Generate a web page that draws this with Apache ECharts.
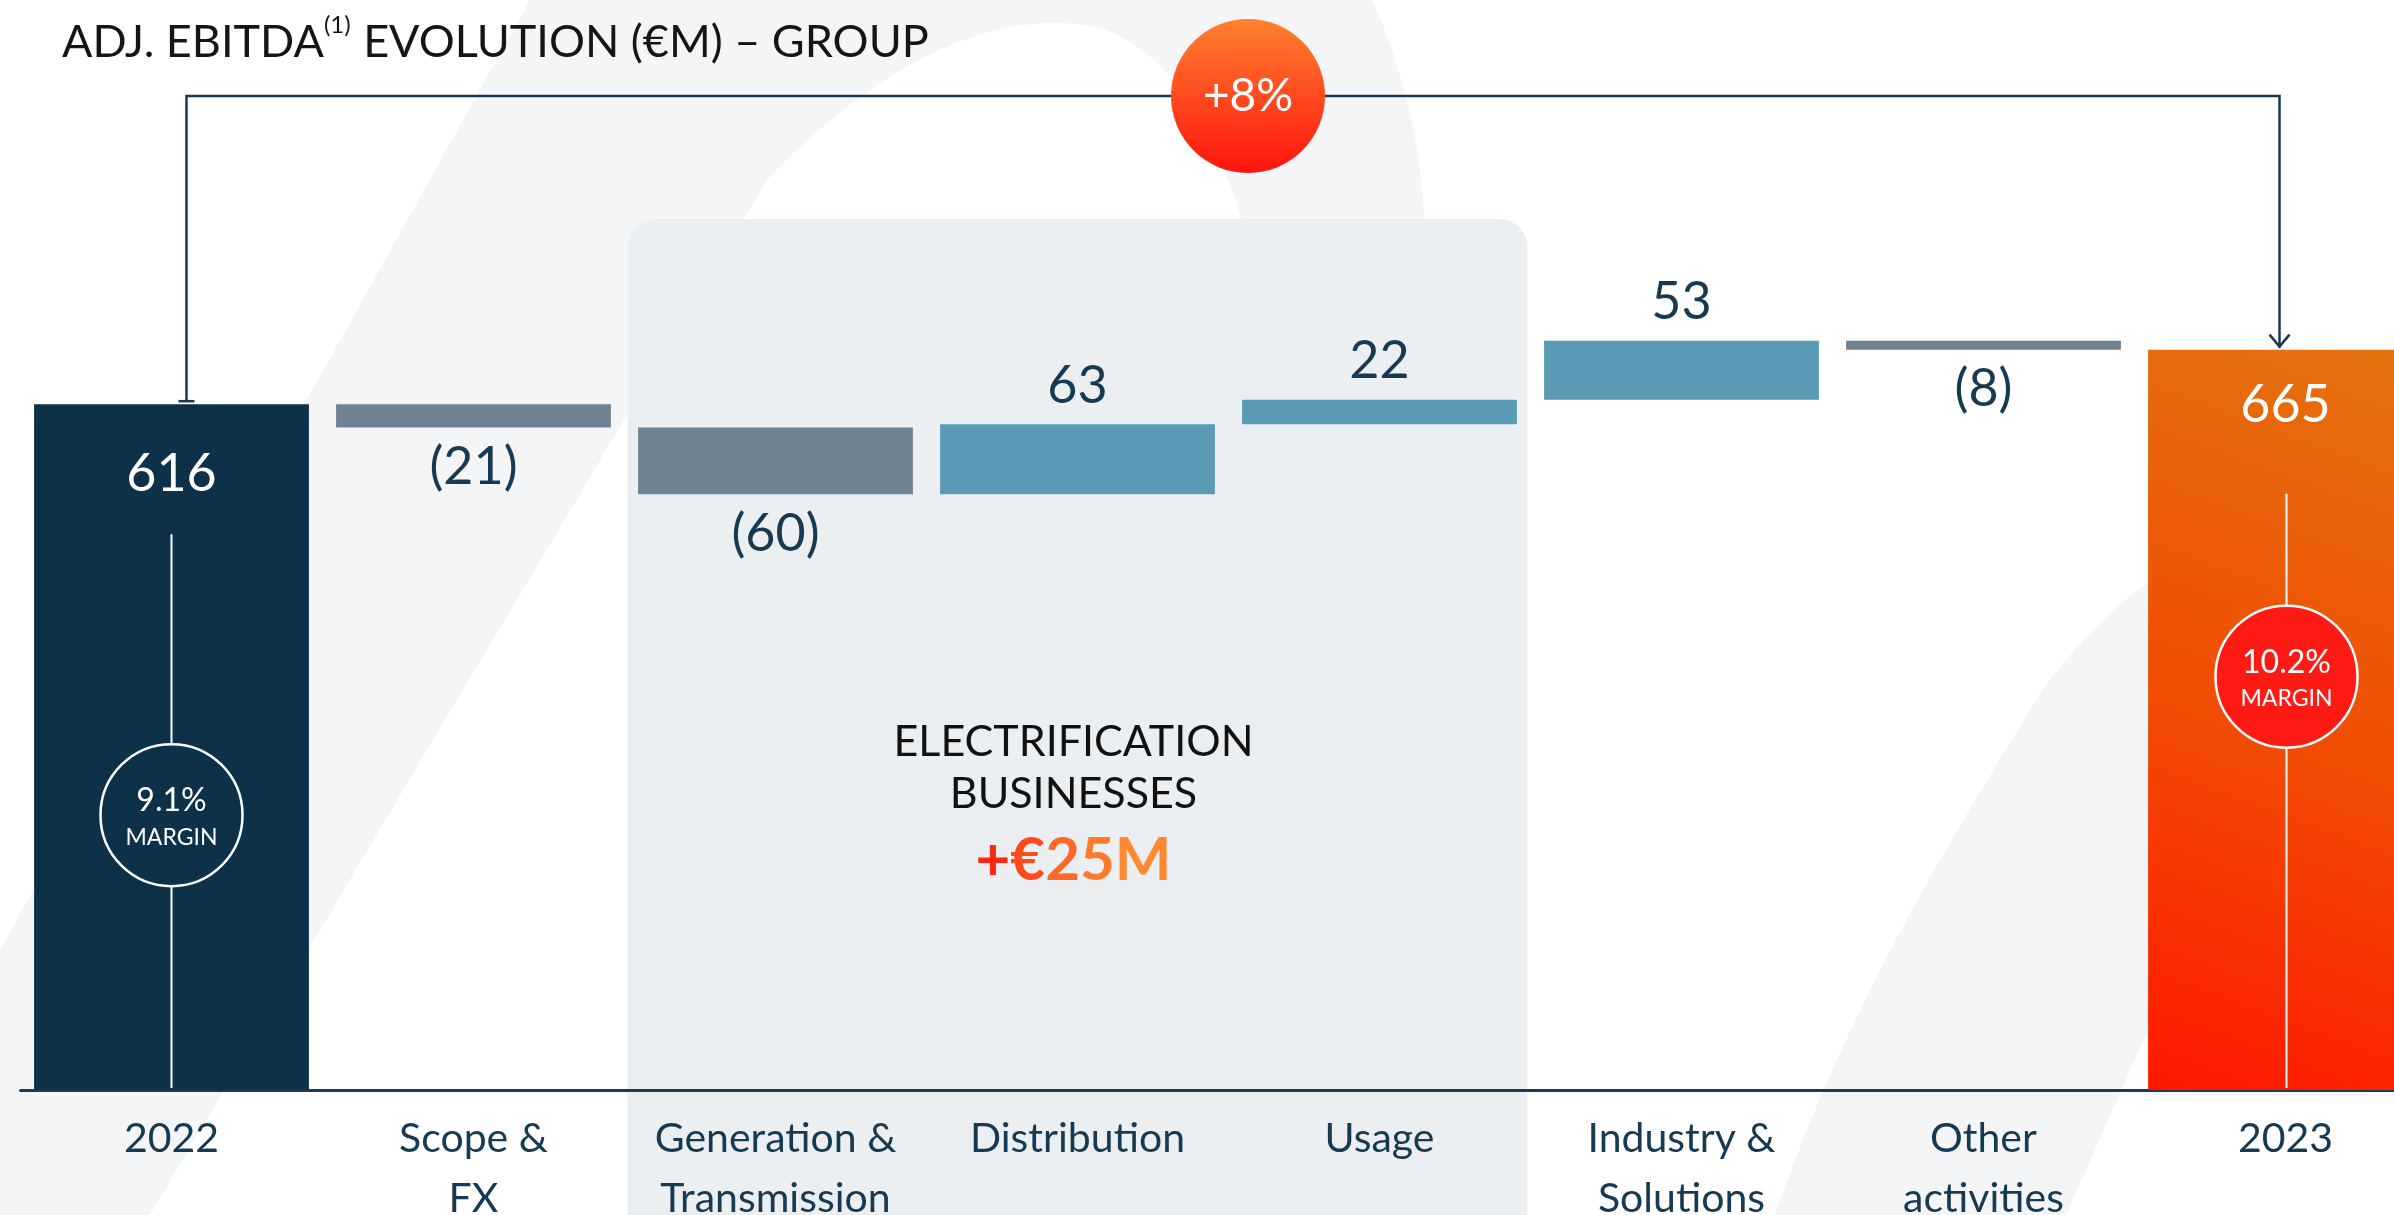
<!DOCTYPE html>
<html><head><meta charset="utf-8">
<script src="https://cdn.jsdelivr.net/npm/echarts@6/dist/echarts.min.js"></script>
<style>html,body{margin:0;padding:0;background:#fff}#c{width:2394px;height:1215px}</style>
</head><body><div id="c"></div>
<script>
// ---- data ----
const categories = ['2022', 'Scope &\nFX', 'Generation &\nTransmission', 'Distribution', 'Usage', 'Industry &\nSolutions', 'Other\nactivities', '2023'];
const startValue = 616;
const deltas = [-21, -60, 63, 22, 53, -8];
const endValue = 665;
const valueLabels = ['616', '(21)', '(60)', '63', '22', '53', '(8)', '665'];
const marginLabels = ['9.1%', '10.2%'];
const growthLabel = '+8%';
const segmentTitle = ['ELECTRIFICATION', 'BUSINESSES'];
const segmentValueParts = ['+', '€', '2', '5', 'M'];
const titleMain = 'ADJ. EBITDA';
const titleSup = '(1)';
const titleRest = ' EVOLUTION (€M) – GROUP';

// ---- derived waterfall arrays ----
const baseVals = [0];
const barVals = [startValue];
let running = startValue;
deltas.forEach(d => {
  const after = running + d;
  baseVals.push(Math.min(running, after));
  barVals.push(Math.abs(d));
  running = after;
});
baseVals.push(0);
barVals.push(endValue);

const FONT = 'Lato';
const NAVY = '#0d3149';
const TXT = '#163a52';
const NEG = '#6e8291';
const POS = '#5b9ab4';
const orangeGrad = new echarts.graphic.LinearGradient(0, 1, 1, 0, [
  {offset: 0, color: '#ff1800'}, {offset: 0.45, color: '#f24a04'}, {offset: 1, color: '#e3730f'}
]);

const items = barVals.map((v, i) => {
  const last = i === barVals.length - 1;
  let color, label;
  if (i === 0 || last) {
    color = i === 0 ? NAVY : orangeGrad;
    label = {show: true, position: 'insideTop', distance: i === 0 ? 44 : 30, color: '#fff'};
  } else if (deltas[i - 1] < 0) {
    color = NEG;
    label = {show: true, position: 'bottom', distance: 14, color: TXT};
  } else {
    color = POS;
    label = {show: true, position: 'top', distance: 12, color: TXT};
  }
  label.formatter = valueLabels[i];
  label.fontFamily = FONT;
  label.fontSize = 52;
  label.lineHeight = 52;
  return {value: v, itemStyle: {color: color}, label: label};
});

const chart = echarts.init(document.getElementById('c'));
chart.setOption({
  animation: false,
  backgroundColor: '#ffffff',
  title: {
    text: '{a|' + titleMain + '}{s|' + titleSup + '}{a|' + titleRest + '}',
    left: 57, top: 8,
    textStyle: {
      fontWeight: 'normal',
      rich: {
        a: {fontFamily: FONT, fontSize: 45, fontWeight: 'normal', lineHeight: 52, color: '#151515', verticalAlign: 'bottom'},
        s: {fontFamily: FONT, fontSize: 24, fontWeight: 'normal', lineHeight: 26, color: '#151515', verticalAlign: 'top', padding: [0, 1, 0, 0]}
      }
    }
  },
  grid: {left: 20.5, width: 2416, top: 88, bottom: 125, outerBoundsMode: 'none', containLabel: false},
  xAxis: {
    type: 'category', data: categories,
    axisLine: {lineStyle: {color: '#1d3d55', width: 3}},
    axisTick: {show: false},
    axisLabel: {interval: 0, fontFamily: FONT, fontSize: 41, lineHeight: 60, color: TXT, margin: 19}
  },
  yAxis: {type: 'value', min: 0, max: 900, show: false, splitLine: {show: false}},
  series: [
    {type: 'bar', stack: 'w', data: baseVals, itemStyle: {color: 'transparent'}, silent: true, barCategoryGap: '9%'},
    {type: 'bar', stack: 'w', data: items, barCategoryGap: '9%'}
  ]
});

// ---- annotations placed through the chart's own scales ----
const X = i => chart.convertToPixel({xAxisIndex: 0}, i);
const Y = v => chart.convertToPixel({yAxisIndex: 0}, v);
const n = categories.length;
const x0 = X(0), xN = X(n - 1);
const yBase = Y(0);
const top0 = Y(startValue), topN = Y(endValue);
const xL = x0 + 15, xR = xN - 6, yBr = 96;
const boxL = (X(1) + X(2)) / 2 + 3, boxR = (X(4) + X(5)) / 2 - 3;
const LINE = '#1b3a52';

// polygon outline builder (straight segments + sampled cubic curves) for background decoration
function outline(cmds) {
  const pts = [];
  let cur = null;
  cmds.forEach(c => {
    if (c[0] === 'L') { cur = [c[1], c[2]]; pts.push(cur); }
    else {
      const [p0, p1, p2, p3] = [cur, [c[1], c[2]], [c[3], c[4]], [c[5], c[6]]];
      for (let k = 1; k <= 24; k++) {
        const t = k / 24, u = 1 - t;
        pts.push([u*u*u*p0[0] + 3*u*u*t*p1[0] + 3*u*t*t*p2[0] + t*t*t*p3[0],
                  u*u*u*p0[1] + 3*u*u*t*p1[1] + 3*u*t*t*p2[1] + t*t*t*p3[1]]);
      }
      cur = p3;
    }
  });
  return pts;
}

const g = [];
// background decoration
g.push({type: 'polygon', z: -20, silent: true,
  shape: {points: outline([['L', 0, 950], ['L', 530, 0], ['L', 1372, 0], ['C', 1400, 60, 1420, 140, 1424, 214],
    ['L', 1450, 700], ['L', 1300, 700], ['C', 1290, 300, 1230, 70, 1100, 28], ['C', 1000, 5, 880, 60, 767, 180],
    ['L', 150, 1215], ['L', 0, 1215]])},
  style: {fill: '#f4f5f7'}});
g.push({type: 'polygon', z: -20, silent: true,
  shape: {points: outline([['L', 1775, 1215], ['C', 1850, 1000, 1950, 840, 2043, 689], ['C', 2080, 640, 2120, 600, 2160, 575],
    ['L', 2394, 420], ['L', 2394, 760], ['L', 2150, 1025], ['L', 2066, 1215]])},
  style: {fill: '#f4f5f7'}});
// electrification box
g.push({type: 'rect', z: -10, silent: true,
  shape: {x: boxL, y: 219, width: boxR - boxL, height: 1100, r: [28, 28, 0, 0]},
  style: {fill: '#eceff2'}});
// bracket
g.push({type: 'polyline', z: 5, shape: {points: [[xL, top0 - 3], [xL, yBr], [xR, yBr], [xR, topN - 2]]},
  style: {stroke: LINE, lineWidth: 2.5, fill: null}});
g.push({type: 'line', z: 5, shape: {x1: xL - 8, y1: top0 - 3, x2: xL + 8, y2: top0 - 3}, style: {stroke: LINE, lineWidth: 2.5}});
g.push({type: 'polyline', z: 5, shape: {points: [[xR - 10, topN - 15], [xR, topN - 3], [xR + 10, topN - 15]]},
  style: {stroke: LINE, lineWidth: 2.5, fill: null}});
// growth circle
const cx = (xL + xR) / 2 + 15;
g.push({type: 'circle', z: 6, shape: {cx: cx, cy: yBr, r: 77},
  style: {fill: new echarts.graphic.LinearGradient(0, 0, 0, 1, [{offset: 0, color: '#ff812f'}, {offset: 1, color: '#ff140f'}])}});
g.push({type: 'text', z: 7, x: cx, y: yBr, style: {text: growthLabel, fill: '#fff', font: '46px ' + FONT, align: 'center', verticalAlign: 'middle'}});
// margin markers
function marginMarker(xc, lineTop, cy, fill, label) {
  g.push({type: 'line', z: 8, shape: {x1: xc, y1: lineTop, x2: xc, y2: yBase - 2}, style: {stroke: '#ffffff', lineWidth: 2}});
  g.push({type: 'circle', z: 9, shape: {cx: xc, cy: cy, r: 71}, style: {fill: fill, stroke: '#ffffff', lineWidth: 2.5}});
  g.push({type: 'text', z: 10, x: xc, y: cy - 14, style: {text: label, fill: '#fff', font: '32px ' + FONT, align: 'center', verticalAlign: 'middle'}});
  g.push({type: 'text', z: 10, x: xc, y: cy + 22, style: {text: 'MARGIN', fill: '#fff', font: '23px ' + FONT, align: 'center', verticalAlign: 'middle'}});
}
marginMarker(x0, top0 + 130, top0 + 411, NAVY, marginLabels[0]);
marginMarker(xN + 1, topN + 144, topN + 327, '#ff1a14', marginLabels[1]);
// segment annotation
const sx = X(3) - 4;
g.push({type: 'text', z: 3, x: sx, y: 742, style: {text: segmentTitle[0], fill: '#111', font: '43px ' + FONT, align: 'center', verticalAlign: 'middle'}});
g.push({type: 'text', z: 3, x: sx, y: 794, style: {text: segmentTitle[1], fill: '#111', font: '43px ' + FONT, align: 'center', verticalAlign: 'middle'}});
const partColors = ['#ff2612', '#ff4a1c', '#ff6826', '#ff7b2c', '#ff8a31'];
const rich = {};
partColors.forEach((c, i) => { rich['p' + i] = {fill: c, fontFamily: FONT, fontWeight: 'bold', fontSize: 60}; });
g.push({type: 'text', z: 3, x: sx, y: 861, style: {
  text: segmentValueParts.map((p, i) => '{p' + i + '|' + p + '}').join(''),
  rich: rich, align: 'center', verticalAlign: 'middle'}});

chart.setOption({graphic: g});
</script></body></html>
